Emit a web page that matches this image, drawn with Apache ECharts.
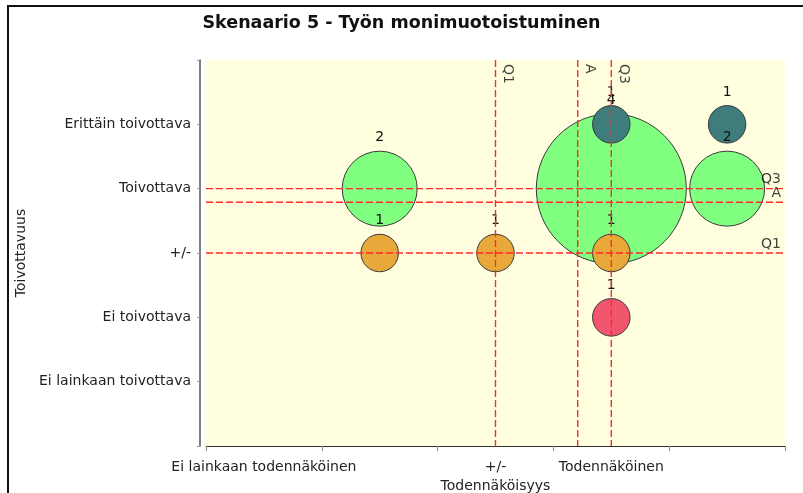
<!DOCTYPE html>
<html>
<head>
<meta charset="utf-8">
<script src="https://cdn.jsdelivr.net/npm/echarts@6/dist/echarts.min.js"></script>
<style>
  html, body { margin: 0; padding: 0; background: #ffffff; }
  #chart { width: 803px; height: 493px; }
</style>
</head>
<body>
<div id="chart"></div>
<script>
// Texts
const titleText = 'Skenaario 5 - Työn monimuotoistuminen';
const xAxisTitle = 'Todennäköisyys';
const yAxisTitle = 'Toivottavuus';

// Likelihood categories (1..5) as labelled on the x axis
const xCategories = ['Ei lainkaan todennäköinen', '', '+/-', 'Todennäköinen', ''];
// Desirability levels, index = axis value (0..6)
const yLevels = ['', 'Ei lainkaan toivottava', 'Ei toivottava', '+/-', 'Toivottava', 'Erittäin toivottava', ''];

// Answers: likelihood, desirability and number of respondents
const bubbleX = [2, 4, 5, 4, 5, 2, 3, 4, 4];
const bubbleY = [4, 4, 4, 5, 5, 3, 3, 3, 2];
const bubbleCount = [2, 4, 2, 1, 1, 1, 1, 1, 1];

// Quartiles and average for both dimensions
const xMarkNames = ['Q1', 'A', 'Q3'];
const xMarkValues = [3, 3.71, 4];
const yMarkNames = ['Q3', 'A', 'Q1'];
const yMarkValues = [4, 3.79, 3];

// Axis extents of the plot (value space)
const X_MIN = 0.5, X_MAX = 5.5, Y_MIN = 0, Y_MAX = 6;

const FONT = 'DejaVu Sans';
const levelColors = { 5: '#3f7d7d', 4: '#80ff80', 3: '#e8a83a', 2: '#f2566e', 1: '#c0392b' };
const MARK_RED = '#ff2a2a';

const bubbleData = bubbleX.map((x, i) => ({
  value: [x, bubbleY[i], bubbleCount[i]],
  itemStyle: { color: levelColors[bubbleY[i]] }
}));

function refLine(points) {
  return {
    type: 'line',
    xAxisIndex: 1,
    z: 5,
    silent: true,
    symbol: 'none',
    data: points,
    lineStyle: { color: MARK_RED, width: 1.4, type: [7, 3] },
    itemStyle: { color: MARK_RED },
    emphasis: { disabled: true },
    animation: false
  };
}

const verticalLineSeries = xMarkValues.map(v => refLine([[v, Y_MAX], [v, Y_MIN]]));
const horizontalLineSeries = yMarkValues.map(v => refLine([[X_MIN, v], [X_MAX, v]]));

const refLabelStyle = { fontFamily: FONT, fontSize: 14, color: '#111' };

const chart = echarts.init(document.getElementById('chart'), null, { renderer: 'canvas' });
chart.setOption({
  animation: false,
  backgroundColor: '#ffffff',
  textStyle: { fontFamily: FONT },
  title: {
    text: titleText,
    left: 'center',
    top: 9,
    textStyle: { fontFamily: FONT, fontSize: 17.5, fontWeight: 'bold', color: '#111' }
  },
  graphic: [{
    type: 'rect',
    shape: { x: 8, y: 6, width: 900, height: 600 },
    style: { fill: 'none', stroke: '#111', lineWidth: 2 },
    silent: true,
    z: -10
  }],
  grid: {
    left: 206, right: 18, top: 60, bottom: 47,
    outerBoundsMode: 'none',
    containLabel: false,
    show: true, backgroundColor: '#ffffe0', borderWidth: 0
  },
  xAxis: [{
    type: 'category',
    data: xCategories,
    boundaryGap: true,
    offset: 5,
    name: xAxisTitle,
    nameLocation: 'middle',
    nameGap: 25,
    nameTextStyle: { fontFamily: FONT, fontSize: 14, color: '#222' },
    axisLine: { lineStyle: { color: '#333', width: 1 } },
    axisTick: { show: true, length: 5, lineStyle: { color: '#888' } },
    axisLabel: { interval: 0, margin: 9, fontFamily: FONT, fontSize: 14, color: '#222' },
    splitLine: { show: false }
  }, {
    type: 'value',
    min: X_MIN, max: X_MAX,
    show: false
  }],
  yAxis: {
    type: 'value',
    min: Y_MIN, max: Y_MAX, interval: 1,
    offset: 6,
    name: yAxisTitle,
    nameLocation: 'middle',
    nameGap: 169,
    nameTextStyle: { fontFamily: FONT, fontSize: 14, color: '#222' },
    axisLine: { show: true, lineStyle: { color: '#555', width: 1.5 } },
    axisTick: { show: true, length: 3, lineStyle: { color: '#999' } },
    axisLabel: {
      margin: 9, fontFamily: FONT, fontSize: 14, color: '#222',
      formatter: v => yLevels[Math.round(v)] || ''
    },
    splitLine: { show: false }
  },
  series: [
    {
      type: 'scatter',
      xAxisIndex: 1,
      z: 2,
      data: bubbleData,
      symbol: 'circle',
      symbolSize: v => v[2] * 37.5,
      itemStyle: { borderColor: '#3a3a3a', borderWidth: 1, opacity: 1 },
      label: {
        show: true, position: 'top', distance: 6,
        formatter: p => String(p.value[2]),
        fontFamily: FONT, fontSize: 14, color: '#111'
      },
      emphasis: { disabled: true }
    },
    ...verticalLineSeries,
    ...horizontalLineSeries,
    {
      // names of the vertical reference lines, written downwards from the top
      type: 'scatter',
      xAxisIndex: 1,
      z: 6,
      silent: true,
      symbolSize: 0,
      data: xMarkValues.map((v, i) => [v, Y_MAX, xMarkNames[i]]),
      label: Object.assign({
        show: true, position: [5, 4], rotate: -90,
        align: 'left', verticalAlign: 'bottom',
        formatter: p => p.value[2]
      }, refLabelStyle),
      emphasis: { disabled: true }
    },
    {
      // names of the horizontal reference lines at the right edge
      type: 'scatter',
      xAxisIndex: 1,
      z: 6,
      silent: true,
      symbolSize: 0,
      data: yMarkValues.map((v, i) => [X_MAX, v, yMarkNames[i]]),
      label: Object.assign({
        show: true, position: [-4, -2],
        align: 'right', verticalAlign: 'bottom',
        formatter: p => p.value[2]
      }, refLabelStyle),
      emphasis: { disabled: true }
    }
  ]
});
</script>
</body>
</html>
